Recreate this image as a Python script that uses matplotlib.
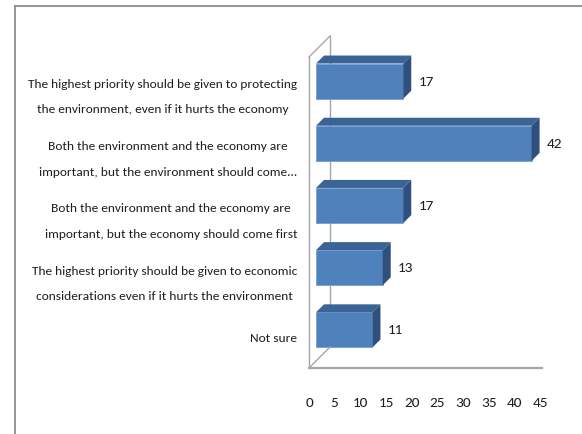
import matplotlib
matplotlib.use("Agg")
import matplotlib.pyplot as plt
from matplotlib.patches import Polygon
from matplotlib.lines import Line2D
import matplotlib.transforms as mtransforms
import numpy as np

plt.rcParams['font.family'] = ['Carlito', 'Lato', 'DejaVu Sans']

categories = [
    "The highest priority should be given to protecting\nthe environment, even if it hurts the economy",
    "Both the environment and the economy are\nimportant, but the environment should come...",
    "Both the environment and the economy are\nimportant, but the economy should come first",
    "The highest priority should be given to economic\nconsiderations even if it hurts the environment",
    "Not sure",
]
values = [17, 42, 17, 13, 11]
xticks = [0, 5, 10, 15, 20, 25, 30, 35, 40, 45]

W, H = 582, 435
DPI = 100
fig = plt.figure(figsize=(W / DPI, H / DPI), dpi=DPI)
fig.patch.set_facecolor('white')

# axes = front plane of the 3D box
ax = fig.add_axes([309 / W, 66 / H, 233 / W, 311 / H])
ax.set_xlim(0, 45.39)
ax.set_ylim(len(categories) - 0.5, -0.5)
ax.set_facecolor('none')

text_color = '#1f1f1f'
fs_cat = 9.6
fs_num = 11
pos = list(range(len(categories)))

ax.set_xticks(xticks)
ax.set_xticklabels([str(t) for t in xticks], fontsize=fs_num, color=text_color)
ax.set_yticks(pos)
ax.set_yticklabels(categories, fontsize=fs_cat, color=text_color, multialignment='center',
                   linespacing=2.6)
ax.tick_params(axis='both', length=0)
ax.tick_params(axis='x', pad=20)
ax.tick_params(axis='y', pad=8.5)

for s in ['top', 'right']:
    ax.spines[s].set_visible(False)
ax.spines['left'].set_color('#a6a6a6')
ax.spines['left'].set_linewidth(1.0)
ax.spines['bottom'].set_color('#a6a6a6')
ax.spines['bottom'].set_linewidth(1.6)

def px_offset(dx, dy):
    return mtransforms.ScaledTranslation(dx / DPI, dy / DPI, fig.dpi_scale_trans)

# back wall and depth edges of the box
wall = 21
back_t = ax.transAxes + px_offset(wall, wall)
ax.add_line(Line2D([0, 0], [0, 1], transform=back_t, color='#a6a6a6', lw=1.0, zorder=1,
                   clip_on=False))
for yy in (0, 1):
    p_front = ax.transAxes.transform((0, yy))
    p_back = back_t.transform((0, yy))
    pts = fig.transFigure.inverted().transform(np.array([p_front, p_back]))
    fig.add_artist(Line2D(pts[:, 0], pts[:, 1], transform=fig.transFigure,
                          color='#a6a6a6', lw=1.0, zorder=1))

# bars: front face sits 7 px into the depth, bar depth 8 px
front_shift = 7
depth = 8
bar_t = ax.transData + px_offset(front_shift, front_shift)
bh = 0.565
front_col = '#4F81BD'
top_col = '#3A6396'
side_col = '#2F507D'

ax.barh(pos, values, height=bh, color=front_col, transform=bar_t, zorder=3,
        edgecolor='#6f98cc', linewidth=0.5)

o = ax.transData.transform((0, 0))
dd = ax.transData.inverted().transform(o + np.array([depth, depth]))
ddx, ddy = dd[0], dd[1]
for c, v in zip(pos, values):
    top = c - bh / 2
    bot = c + bh / 2
    ax.add_patch(Polygon([(0, top), (v, top), (v + ddx, top + ddy), (ddx, top + ddy)],
                         closed=True, facecolor=top_col, edgecolor='none',
                         transform=bar_t, zorder=3, clip_on=False))
    ax.add_patch(Polygon([(v, top), (v, bot), (v + ddx, bot + ddy), (v + ddx, top + ddy)],
                         closed=True, facecolor=side_col, edgecolor='none',
                         transform=bar_t, zorder=3, clip_on=False))
    ax.text(v, c, str(v), transform=ax.transData + px_offset(22, 7.5), ha='left',
            va='center', fontsize=fs_num, color=text_color, zorder=4, clip_on=False)

# outer chart border (top and left visible)
bx, by = 15 / W, 1 - 7 / H
fig.add_artist(Line2D([bx, bx], [by, 0], transform=fig.transFigure, color='#8c8c8c', lw=1.3))
fig.add_artist(Line2D([bx, 1], [by, by], transform=fig.transFigure, color='#8c8c8c', lw=1.3))

fig.savefig('out.png', dpi=DPI)
